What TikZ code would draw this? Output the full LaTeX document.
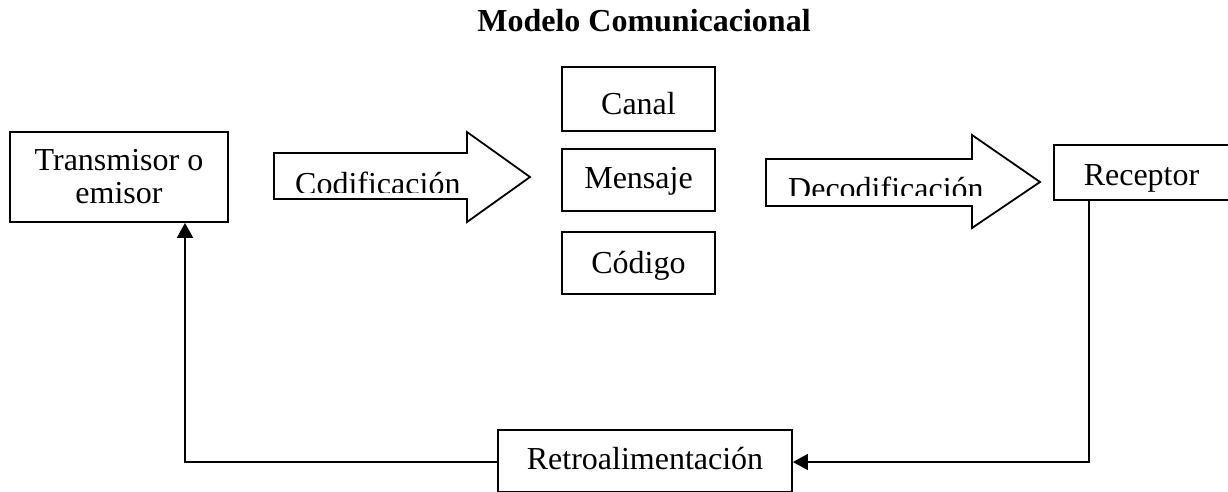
\documentclass[tikz,border=0pt]{standalone}
\usepackage{fontspec}
\setmainfont{Liberation Serif}
\usetikzlibrary{arrows.meta}
\newcommand{\cuerpo}{\fontsize{32}{33}\selectfont}

\tikzset{
  caja/.style={draw, line width=1.8pt, inner sep=0pt, font=\cuerpo, text height=22pt, text depth=6pt},
  flecha/.style={draw, line width=1.8pt, line join=miter},
  rotulo/.style={font=\cuerpo, anchor=base west, inner sep=0pt},
  enlace/.style={line width=1.8pt, -{Triangle[length=15pt,width=16pt]}}
}

\begin{document}
\begin{tikzpicture}[x=1pt,y=-1pt]
  \useasboundingbox (0,0) rectangle (1228,491);

  \node[font=\cuerpo\bfseries, anchor=base] (titulo) at (644,31) {Modelo Comunicacional};

  \node[draw, line width=1.8pt, inner sep=0pt, font=\cuerpo, align=center,
        minimum width=218pt, minimum height=90pt] (transmisor) at (119,177) {Transmisor o\\emisor};

  \node[caja, minimum width=153pt, minimum height=64pt] (canal) at (638.5,99) {\raisebox{-7pt}{Canal}};
  \node[caja, minimum width=153pt, minimum height=62pt] (mensaje) at (638.5,180) {Mensaje};
  \node[caja, minimum width=153pt, minimum height=62pt] (codigo) at (638.5,263) {\raisebox{-2pt}{Código}};

  \node[caja, minimum width=175pt, minimum height=55pt] (receptor) at (1141.5,172.5) {\raisebox{-4.5pt}{Receptor}};
  \node[caja, minimum width=294pt, minimum height=62pt] (retro) at (645,461) {Retroalimentación};

  % flechas de bloque
  \draw[flecha] (274,153) -- (467,153) -- (467,132) -- (530,177) -- (467,222) -- (467,199) -- (274,199) -- cycle;
  \begin{scope}
    \clip (274,150) rectangle (530,192);
    \node[rotulo] (codificacion) at (295,194) {Codificación};
  \end{scope}

  \draw[flecha] (766,159) -- (972,159) -- (972,135) -- (1040,182) -- (972,228) -- (972,206) -- (766,206) -- cycle;
  \begin{scope}
    \clip (766,156) rectangle (1040,195);
    \node[rotulo] (decodificacion) at (788,199) {Decodificación};
  \end{scope}

  % retroalimentacion
  \coordinate (esqder) at (1089,462);
  \coordinate (esqizq) at (185,462);
  \draw[enlace] (receptor.south -| esqder) -- (esqder) -- (esqder -| retro.east);
  \draw[enlace] (esqder -| retro.west) -- (esqizq) -- (esqizq |- transmisor.south);
\end{tikzpicture}
\end{document}
